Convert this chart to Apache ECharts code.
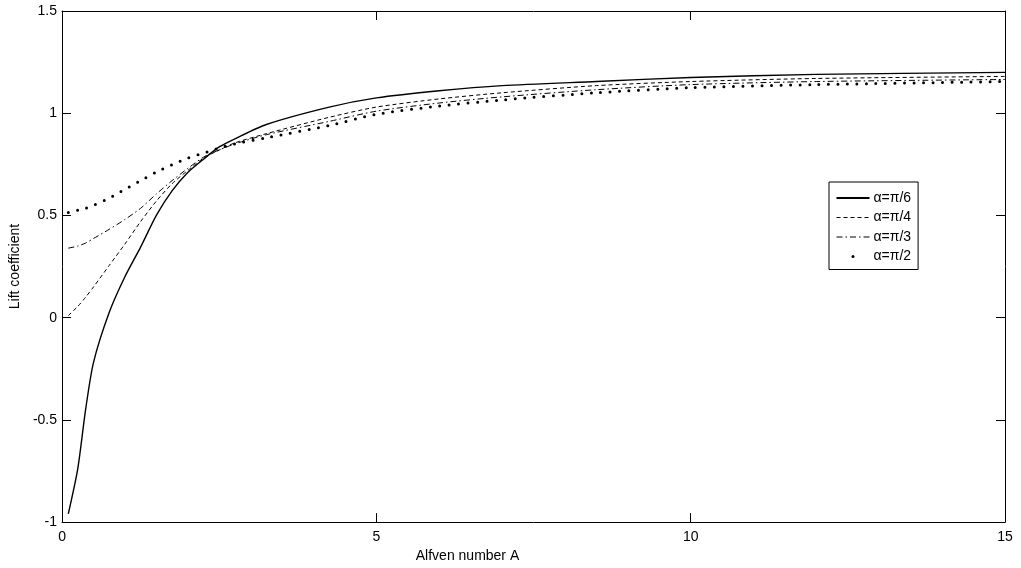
<!DOCTYPE html>
<html>
<head>
<meta charset="utf-8">
<script src="https://cdn.jsdelivr.net/npm/echarts@6/dist/echarts.min.js"></script>
<style>
  html, body { margin: 0; padding: 0; background: #fff; }
  #chart { width: 1021px; height: 568px; }
</style>
</head>
<body>
<div id="chart"></div>
<script>
// Alfven number A
const alfven = [0.1, 0.25, 0.375, 0.5, 0.75, 1.0, 1.25, 1.5, 1.75, 2.0, 2.25, 2.5, 2.75, 3.25, 4.25, 5, 6, 7, 8.5, 10, 12, 15];
// lift coefficient for each angle
const liftPi6 = [-0.96, -0.74, -0.45, -0.22, 0.025, 0.2, 0.345, 0.5, 0.62, 0.71, 0.775, 0.835, 0.875, 0.945, 1.03, 1.075, 1.11, 1.135, 1.155, 1.175, 1.19, 1.2];
const liftPi4 = [0.01, 0.055, 0.1, 0.15, 0.255, 0.36, 0.47, 0.57, 0.655, 0.72, 0.78, 0.82, 0.855, 0.9, 0.98, 1.03, 1.07, 1.1, 1.135, 1.155, 1.17, 1.18];
const liftPi3 = [0.34, 0.35, 0.365, 0.387, 0.432, 0.48, 0.535, 0.605, 0.67, 0.73, 0.785, 0.82, 0.85, 0.895, 0.96, 1.01, 1.05, 1.08, 1.115, 1.14, 1.155, 1.165];
const liftPi2 = [0.514, 0.525, 0.535, 0.55, 0.585, 0.628, 0.67, 0.712, 0.748, 0.78, 0.805, 0.83, 0.85, 0.88, 0.94, 0.995, 1.035, 1.065, 1.1, 1.125, 1.14, 1.155];
const names = ["α=π/6", "α=π/4", "α=π/3", "α=π/2"];

const pairs = (ys) => alfven.map((x, i) => [x, ys[i]]);
const font = "Liberation Sans, Arial, sans-serif";

const chart = echarts.init(document.getElementById("chart"));

// 四个边都有刻度（像 MATLAB 的 box on）
const boxAxis = {
  axisLine: { show: true, onZero: false, lineStyle: { color: "#000", width: 1 } },
  axisTick: { show: true, inside: true, length: 9, lineStyle: { color: "#000" } },
  splitLine: { show: false },
};

const lineSeries = (name, ys, lineStyle) => ({
  name: name,
  type: "line",
  data: pairs(ys),
  symbol: "none",
  smooth: 0.25,
  lineStyle: Object.assign({ color: "#000", width: 1 }, lineStyle),
  z: 3,
});

const option = {
  animation: false,
  backgroundColor: "#fff",
  textStyle: { fontFamily: font },
  grid: { left: 61, right: 16, top: 11, bottom: 45 },
  legend: {
    orient: "vertical",
    left: 829,
    top: 182,
    padding: [9, 7, 6, 6],
    itemWidth: 33,
    itemHeight: 14,
    itemGap: 5.5,
    itemStyle: { opacity: 0 },
    borderColor: "#000",
    borderWidth: 1,
    backgroundColor: "#fff",
    textStyle: { color: "#000", fontSize: 14, fontFamily: font, padding: [0, 0, 0, -1] },
    data: [
      { name: names[0] },
      { name: names[1], lineStyle: { width: 1 } },
      { name: names[2], lineStyle: { width: 1 } },
      { name: names[3], lineStyle: { type: [0, 100], dashOffset: -16.5, width: 3, cap: "round" } },
    ],
  },
  xAxis: [
    Object.assign({
      type: "value",
      min: 0,
      max: 15,
      interval: 5,
      name: "Alfven number A",
      nameLocation: "middle",
      nameGap: 22,
      nameTextStyle: { color: "#000", fontSize: 14, fontFamily: font, padding: [0, 132, 0, 0] },
      axisLabel: { color: "#000", fontSize: 14, margin: 8 },
    }, boxAxis),
    Object.assign({
      type: "value",
      position: "top",
      min: 0,
      max: 15,
      interval: 5,
      axisLabel: { show: false },
    }, boxAxis),
  ],
  yAxis: [
    Object.assign({
      type: "value",
      min: -1,
      max: 1.5,
      interval: 0.5,
      name: "Lift coefficient",
      nameLocation: "middle",
      nameGap: 40,
      nameTextStyle: { color: "#000", fontSize: 14, fontFamily: font },
      axisLabel: { color: "#000", fontSize: 14, margin: 5 },
    }, boxAxis),
    Object.assign({
      type: "value",
      position: "right",
      min: -1,
      max: 1.5,
      interval: 0.5,
      axisLabel: { show: false },
    }, boxAxis),
  ],
  series: [
    lineSeries(names[0], liftPi6, { width: 1.4 }),
    lineSeries(names[1], liftPi4, { type: [4, 3] }),
    lineSeries(names[2], liftPi3, { type: [6, 3, 1.5, 3] }),
    lineSeries(names[3], liftPi2, { type: [0, 9.5], width: 3, cap: "round" }),
  ],
};

chart.setOption(option);
</script>
</body>
</html>
